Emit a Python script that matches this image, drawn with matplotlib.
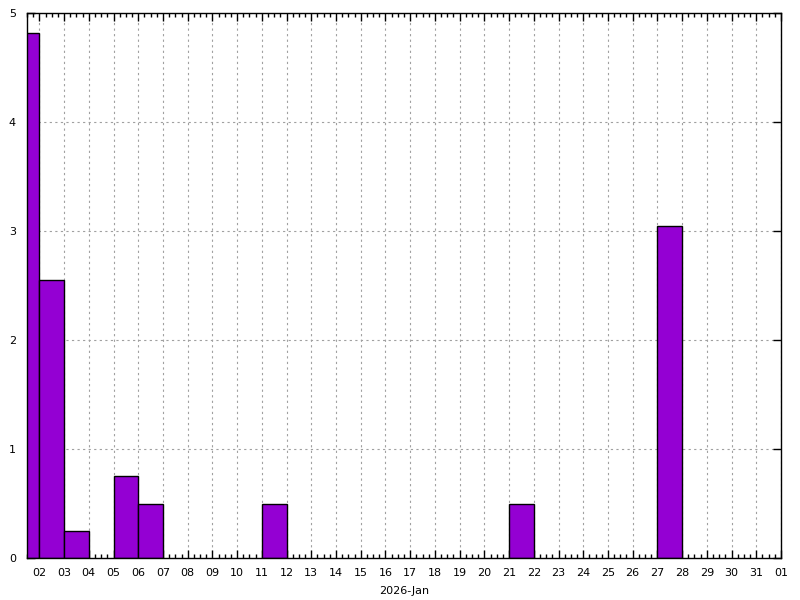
import numpy as np
import matplotlib
matplotlib.use("Agg")
from matplotlib import pyplot as plt
import matplotlib.dates as mdates
from datetime import datetime, timedelta

# daily values (bar spans the day starting at that date)
days = ["2026-01-01", "2026-01-02", "2026-01-03", "2026-01-05", "2026-01-06",
        "2026-01-11", "2026-01-21", "2026-01-27"]
values = [4.82, 2.55, 0.25, 0.75, 0.5, 0.5, 0.5, 3.05]

tick_days = [datetime(2026, 1, d) for d in range(2, 32)] + [datetime(2026, 2, 1)]
tick_labels = [f"{d:02d}" for d in range(2, 32)] + ["01"]

dates = [datetime.strptime(d, "%Y-%m-%d") for d in days]

fig = plt.figure(figsize=(8, 6), dpi=100)
ax = fig.add_axes([27 / 800, 42 / 600, 754 / 800, 545 / 600])
ax.set_axisbelow(True)

ax.bar(dates, values, width=1.0, align="edge", color="#9400d3",
       edgecolor="black", linewidth=1.0, zorder=3)

ax.set_xlim(datetime(2026, 1, 1, 12), datetime(2026, 2, 1))
ax.set_ylim(0, 5)

ax.set_xticks(tick_days)
ax.set_xticklabels(tick_labels)
ax.xaxis.set_minor_locator(mdates.HourLocator(byhour=[0, 6, 12, 18]))
ax.set_yticks(range(0, 6))

ax.tick_params(axis="both", which="major", direction="in", length=6, width=1,
               top=True, right=True, labelsize=8, pad=7)
ax.tick_params(axis="x", which="minor", direction="in", length=3, width=1,
               top=True, bottom=True)
ax.tick_params(axis="y", which="major", pad=8)

ax.grid(True, which="major", color="#a0a0a0", linestyle=(0, (2, 3)), linewidth=0.8)
for s in ax.spines.values():
    s.set_linewidth(1.0)
    s.set_zorder(4)

ax.set_xlabel("2026-Jan", fontsize=8, labelpad=6)

fig.savefig("out.png", dpi=100)
